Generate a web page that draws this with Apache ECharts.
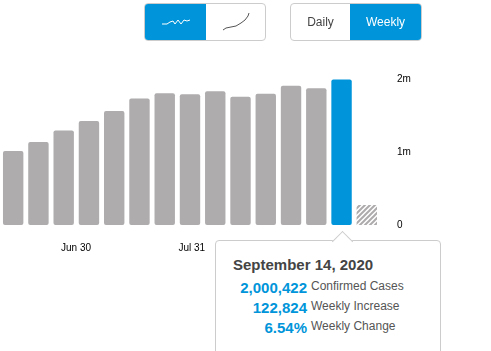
<!DOCTYPE html>
<html>
<head>
<meta charset="utf-8">
<title>Confirmed cases</title>
<script src="https://cdn.jsdelivr.net/npm/echarts@6/dist/echarts.min.js"></script>
<style>
  html, body { margin: 0; padding: 0; background: #fff; overflow: hidden; }
  body { width: 491px; height: 351px; position: relative; font-family: "Liberation Sans", Arial, sans-serif; }
  #chart { position: absolute; left: 0; top: 0; width: 491px; height: 351px; }
  .toggle { position: absolute; top: 3px; height: 36px; border: 1px solid #ccc; border-radius: 4px; background: #fff; overflow: hidden; display: flex; box-sizing: content-box; }
  .toggle div { display: flex; align-items: center; justify-content: center; font-size: 12px; color: #444; height: 100%; }
  .toggle .on { background: #0095da; color: #fff; }
  .card { position: absolute; left: 215px; top: 240px; width: 224px; height: 130px; border: 1px solid #ccc; border-radius: 4px; background: #fff; box-sizing: content-box; }
  .notch { position: absolute; left: 334.5px; top: 233.5px; width: 14px; height: 14px; background: #fff; border-left: 1px solid #ccc; border-top: 1px solid #ccc; transform: rotate(45deg); }
  .title { position: absolute; left: 17px; top: 15px; font-size: 15px; font-weight: bold; color: #444; white-space: nowrap; }
  .val { position: absolute; right: 133px; font-size: 15px; font-weight: bold; color: #0095da; white-space: nowrap; }
  .lbl { position: absolute; left: 95px; font-size: 12px; color: #555; white-space: nowrap; }
</style>
</head>
<body>
<div id="chart"></div>

<div class="toggle" style="left:144px;width:120px">
  <div class="on" style="width:61px">
    <svg width="30" height="12" viewBox="0 0 30 12"><polyline points="1,8 6,8 9,6 12,5 14,8 17,4 20,8 23,4 26,5 29,4" fill="none" stroke="#fff" stroke-width="1"/></svg>
  </div>
  <div style="width:59px">
    <svg width="30" height="20" viewBox="0 0 30 20"><polyline points="2,18 5,16 10,15 15,14 20,11 24,8 27,4 28,1" fill="none" stroke="#555" stroke-width="1"/></svg>
  </div>
</div>
<div class="toggle" style="left:290px;width:130px">
  <div style="width:59px">Daily</div>
  <div class="on" style="width:71px">Weekly</div>
</div>

<div class="card" id="card"></div>
<div class="notch"></div>

<script>
const categories = ['Jun 1', 'Jun 8', 'Jun 15', 'Jun 22', 'Jun 29', 'Jul 6', 'Jul 13', 'Jul 20', 'Jul 27', 'Aug 3', 'Aug 10', 'Aug 17', 'Aug 24', 'Aug 31', 'Sep 7'];
const weeklyCases = [1017000, 1140000, 1300000, 1430000, 1567000, 1740000, 1810000, 1797000, 1840000, 1763000, 1805000, 1915000, 1879000, 2000422, 275000];
const selectedIndex = 13;
const partialIndex = 14;
const dateTickPositions = [2.49, 7.07];
const dateTickLabels = ['Jun 30', 'Jul 31'];
const valueTicks = { 0: '0', 1000000: '1m', 2000000: '2m' };

const tipTitle = 'September 14, 2020';
const tipValues = ['2,000,422', '122,824', '6.54%'];
const tipLabels = ['Confirmed Cases', 'Weekly Increase', 'Weekly Change'];

// hatch tile for the unfinished week
function hatchTile() {
  const c = document.createElement('canvas');
  c.width = 5;
  c.height = 5;
  const ctx = c.getContext('2d');
  ctx.fillStyle = '#fff';
  ctx.fillRect(0, 0, 5, 5);
  ctx.strokeStyle = '#adabab';
  ctx.lineWidth = 2;
  ctx.beginPath();
  ctx.moveTo(-1, 1); ctx.lineTo(1, -1);
  ctx.moveTo(-1, 6); ctx.lineTo(6, -1);
  ctx.moveTo(4, 6); ctx.lineTo(6, 4);
  ctx.stroke();
  return c;
}

const card = document.getElementById('card');
let html = '<div class="title">' + tipTitle + '</div>';
tipValues.forEach((v, i) => {
  html += '<div class="val" style="top:' + (38 + i * 20) + 'px">' + v + '</div>';
  html += '<div class="lbl" style="top:' + (38 + i * 20) + 'px">' + tipLabels[i] + '</div>';
});
card.innerHTML = html;

const chart = echarts.init(document.getElementById('chart'), undefined, { renderer: 'canvas' });

chart.setOption({
  animation: false,
  grid: { left: 0.54, top: 79.5, width: 378.9, height: 145.5 },
  xAxis: [
    {
      type: 'category',
      data: categories,
      axisLine: { show: false },
      axisTick: { show: false },
      axisLabel: { show: false },
    },
    {
      type: 'value',
      position: 'bottom',
      min: -0.5,
      max: 14.5,
      splitLine: { show: false },
      axisLine: { show: false },
      axisTick: { show: false },
      axisLabel: {
        customValues: dateTickPositions,
        margin: 18,
        fontSize: 10,
        color: '#000',
        fontFamily: 'Liberation Sans',
        formatter: (v) => dateTickLabels[dateTickPositions.indexOf(v)],
      },
    },
  ],
  yAxis: {
    type: 'value',
    position: 'right',
    min: 0,
    max: 2000000,
    interval: 1000000,
    splitLine: { show: false },
    axisLine: { show: false },
    axisTick: { show: false },
    axisLabel: {
      margin: 17.5,
      fontSize: 10,
      color: '#000',
      fontFamily: 'Liberation Sans',
      formatter: (v) => valueTicks[v],
    },
  },
  series: [
    {
      type: 'bar',
      clip: false,
      barWidth: 20.4,
      data: weeklyCases.map((value, i) => {
        if (i === selectedIndex) {
          return { value, itemStyle: { color: '#0095da' } };
        }
        if (i === partialIndex) {
          return { value, itemStyle: { color: { image: hatchTile(), repeat: 'repeat' }, borderRadius: 0 } };
        }
        return value;
      }),
      itemStyle: { color: '#aeacac', borderRadius: 2 },
    },
  ],
});
</script>
</body>
</html>
